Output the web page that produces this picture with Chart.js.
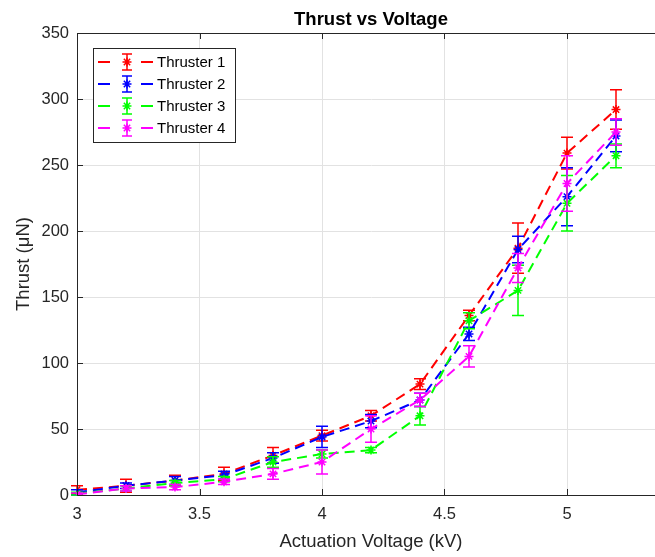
<!DOCTYPE html>
<html>
<head>
<meta charset="utf-8">
<title>Thrust vs Voltage</title>
<script src="https://cdn.jsdelivr.net/npm/chart.js@4.4.0/dist/chart.umd.min.js"></script>
<style>
  html, body { margin: 0; padding: 0; overflow: hidden; background: #fff; }
</style>
</head>
<body>
<canvas id="thrustChart" width="672" height="557"></canvas>
<script>
// actuation voltage (kV)
const voltage = [3, 3.2, 3.4, 3.6, 3.8, 4, 4.2, 4.4, 4.6, 4.8, 5, 5.2];

// mean thrust (uN) and error bar half-heights per thruster
const thruster1 = [4, 7, 11, 16, 30, 45, 60, 84, 136, 187, 259, 292];
const err1 = [3, 5, 4, 5, 6, 4, 4, 4, 4, 19, 12, 15];
const thruster2 = [2, 7, 11, 15, 28, 44, 56, 72, 122, 186, 226, 272];
const err2 = [2, 2, 3, 3, 4, 8, 5, 5, 5, 10, 22, 12];
const thruster3 = [1, 5, 9, 12, 25, 31, 34, 60, 132, 155, 221, 257];
const err3 = [1, 2, 2, 2, 4, 3, 2, 7, 6, 19, 21, 9];
const thruster4 = [0.5, 5, 6, 10, 16, 25, 50, 72, 105, 172, 236, 275];
const err4 = [1, 2, 2, 2, 4, 9, 10, 5, 8, 11, 21, 10];

const names = ["Thruster 1", "Thruster 2", "Thruster 3", "Thruster 4"];
const colors = ["#ff0000", "#0000ff", "#00ff00", "#ff00ff"];

const FONT = '"Liberation Sans", Arial, Helvetica, sans-serif';
const AXIS = "#262626";

function series(values, errs, i) {
  return {
    label: names[i],
    data: voltage.map((v, k) => ({ x: v, y: values[k] })),
    errors: errs,
    borderColor: colors[i],
    backgroundColor: colors[i],
    borderWidth: 2,
    borderDash: [10, 6],
    pointStyle: "star",
    pointRadius: 4.5,
    pointBorderWidth: 1.5,
    pointBorderColor: colors[i],
    tension: 0,
    order: 3 - i, // later thrusters sit on top
  };
}

// vertical error bars with caps, drawn right after each line
const errorBars = {
  id: "errorBars",
  afterDatasetDraw(chart, args) {
    const ds = chart.data.datasets[args.index];
    const x = chart.scales.x, y = chart.scales.y;
    const ctx = chart.ctx;
    ctx.save();
    ctx.strokeStyle = ds.borderColor;
    ctx.lineWidth = 1.5;
    ds.data.forEach((p, k) => {
      const e = ds.errors[k];
      const px = x.getPixelForValue(p.x);
      const top = y.getPixelForValue(p.y + e);
      const bot = y.getPixelForValue(Math.max(p.y - e, y.min));
      ctx.beginPath();
      ctx.moveTo(px, top); ctx.lineTo(px, bot);
      ctx.moveTo(px - 6, top); ctx.lineTo(px + 6, top);
      if (p.y - e >= y.min) { ctx.moveTo(px - 6, bot); ctx.lineTo(px + 6, bot); }
      ctx.stroke();
    });
    ctx.restore();
  },
};

// axes box, inward ticks, titles and the legend box
const decorations = {
  id: "decorations",
  afterDraw(chart) {
    const ctx = chart.ctx;
    const a = chart.chartArea;
    const x = chart.scales.x, y = chart.scales.y;
    ctx.save();
    ctx.strokeStyle = AXIS;
    ctx.lineWidth = 1;
    ctx.strokeRect(a.left + 0.5, a.top + 0.5, a.right - a.left, a.bottom - a.top);
    ctx.beginPath();
    x.ticks.forEach(t => {
      const px = Math.round(x.getPixelForValue(t.value)) + 0.5;
      ctx.moveTo(px, a.bottom); ctx.lineTo(px, a.bottom - 6);
      ctx.moveTo(px, a.top); ctx.lineTo(px, a.top + 6);
    });
    y.ticks.forEach(t => {
      const py = Math.round(y.getPixelForValue(t.value)) + 0.5;
      ctx.moveTo(a.left, py); ctx.lineTo(a.left + 6, py);
    });
    ctx.stroke();

    const cx = (a.left + a.right) / 2;
    ctx.fillStyle = "#000";
    ctx.textAlign = "center";
    ctx.textBaseline = "middle";
    ctx.font = "bold 18.5px " + FONT;
    ctx.fillText("Thrust vs Voltage", cx, 20);
    ctx.fillStyle = AXIS;
    ctx.font = "18.5px " + FONT;
    ctx.fillText("Actuation Voltage (kV)", cx, 542);
    ctx.save();
    ctx.translate(24, (a.top + a.bottom) / 2);
    ctx.rotate(-Math.PI / 2);
    ctx.fillText("Thrust (\u03bcN)", 0, 0);
    ctx.restore();

    // legend
    const lx = 93, ly = 48, lw = 142, lh = 94;
    ctx.fillStyle = "#fff";
    ctx.fillRect(lx, ly, lw, lh);
    ctx.strokeStyle = AXIS;
    ctx.strokeRect(lx + 0.5, ly + 0.5, lw, lh);
    chart.data.datasets.forEach((ds, i) => {
      const ey = ly + 14 + i * 22;
      const mx = 127;
      ctx.strokeStyle = ds.borderColor;
      ctx.lineWidth = 2;
      ctx.beginPath();
      ctx.moveTo(98, ey); ctx.lineTo(110, ey);
      ctx.moveTo(141, ey); ctx.lineTo(153, ey);
      ctx.stroke();
      ctx.lineWidth = 1.5;
      ctx.beginPath();
      ctx.moveTo(mx, ey - 8); ctx.lineTo(mx, ey + 8);
      ctx.moveTo(mx - 5, ey - 8); ctx.lineTo(mx + 5, ey - 8);
      ctx.moveTo(mx - 5, ey + 8); ctx.lineTo(mx + 5, ey + 8);
      ctx.stroke();
      Chart.helpers.drawPoint(ctx, { pointStyle: "star", radius: 4.5, borderWidth: 1.5 }, mx, ey);
      ctx.fillStyle = "#000";
      ctx.textAlign = "left";
      ctx.font = "15px " + FONT;
      ctx.fillText(ds.label, 157, ey + 1);
    });
    ctx.restore();
  },
};

new Chart(document.getElementById("thrustChart"), {
  type: "line",
  data: {
    datasets: [
      series(thruster1, err1, 0),
      series(thruster2, err2, 1),
      series(thruster3, err3, 2),
      series(thruster4, err4, 3),
    ],
  },
  options: {
    responsive: false,
    animation: false,
    layout: { padding: { top: 33, right: 7, left: 0, bottom: 0 } },
    plugins: { legend: { display: false }, tooltip: { enabled: false } },
    scales: {
      x: {
        type: "linear",
        min: 3,
        max: 5.4,
        ticks: {
          stepSize: 0.5,
          color: AXIS,
          padding: 10,
          maxRotation: 0,
          font: { family: FONT, size: 16.5 },
          callback: v => String(Math.round(v * 10) / 10),
        },
        grid: { color: "#e2e2e2", drawTicks: false },
        border: { color: AXIS },
        afterBuildTicks(scale) {
          scale.ticks = scale.ticks.filter(t => Math.abs(t.value * 2 - Math.round(t.value * 2)) < 1e-6);
        },
        afterFit(scale) { scale.height = 62; },
      },
      y: {
        min: 0,
        max: 350,
        ticks: { stepSize: 50, color: AXIS, padding: 8, font: { family: FONT, size: 16.5 } },
        grid: { color: "#e2e2e2", drawTicks: false },
        border: { color: AXIS },
        afterFit(scale) { scale.width = 77; },
      },
    },
  },
  plugins: [errorBars, decorations],
});
</script>
</body>
</html>
